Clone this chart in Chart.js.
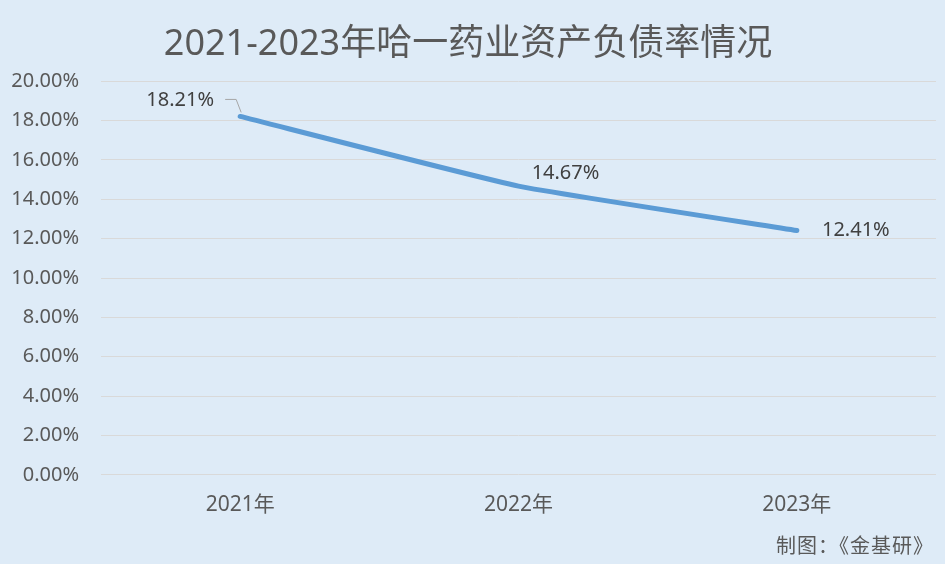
<!DOCTYPE html>
<html><head><meta charset="utf-8">
<script src="https://cdn.jsdelivr.net/npm/chart.js@4"></script>
<style>html,body{margin:0;padding:0;background:#DEEBF7;}#wrap{width:945px;height:564px;position:relative;}</style>
</head><body><div id="wrap"><canvas id="c" width="945" height="564"></canvas></div>
<script>
const categories = ['2021年', '2022年', '2023年'];
const debtRatio = [18.21, 14.67, 12.41];
const yTicks = [0, 2, 4, 6, 8, 10, 12, 14, 16, 18, 20];
const titleText = '2021-2023年哈一药业资产负债率情况';
const sourceText = '制图：《金基研》';

const FONT = "'Noto Sans','Noto Sans CJK SC',sans-serif";
const TXT = '#595959';

const labelPlugin = {
  id: 'labels',
  afterDatasetsDraw(chart) {
    const ctx = chart.ctx;
    const meta = chart.getDatasetMeta(0);
    ctx.save();
    ctx.font = '20px ' + FONT;
    ctx.fillStyle = '#404040';
    ctx.textBaseline = 'middle';
    const offs = [[-60, -16], [47, -13], [59, 0]];
    meta.data.forEach((pt, i) => {
      const o = offs[i];
      ctx.textAlign = 'center';
      ctx.fillText(debtRatio[i].toFixed(2) + '%', pt.x + o[0], pt.y + o[1]);
    });
    const p0 = meta.data[0];
    ctx.strokeStyle = '#A6A6A6';
    ctx.lineWidth = 1;
    ctx.beginPath();
    ctx.moveTo(p0.x - 15, p0.y - 17);
    ctx.lineTo(p0.x - 4, p0.y - 17);
    ctx.lineTo(p0.x + 1, p0.y - 4);
    ctx.stroke();
    ctx.font = '20px ' + FONT;
    ctx.fillStyle = TXT;
    ctx.textAlign = 'right';
    ctx.letterSpacing = '1px';
    ctx.fillText(sourceText, 934, 547);
    ctx.restore();
  }
};

new Chart(document.getElementById('c'), {
  type: 'line',
  data: {
    labels: categories,
    datasets: [{
      data: debtRatio,
      borderColor: '#5B9BD5',
      borderWidth: 5,
      pointRadius: 0,
      tension: 0.12,
      borderCapStyle: 'round',
      fill: false
    }]
  },
  options: {
    responsive: false,
    animation: false,
    devicePixelRatio: 1,
    layout: { padding: { left: 0, right: 9, top: 0, bottom: 36 } },
    plugins: {
      legend: { display: false },
      tooltip: { enabled: false },
      title: {
        display: true,
        text: titleText,
        color: TXT,
        font: { family: FONT, size: 36, weight: 'normal' },
        padding: { top: 23, bottom: 15 }
      }
    },
    scales: {
      x: {
        grid: { display: false },
        border: { display: false },
        ticks: { color: TXT, font: { family: FONT, size: 21 }, padding: 10 },
        offset: true
      },
      y: {
        min: 0, max: 20,
        afterBuildTicks(axis) { axis.ticks = yTicks.map(v => ({ value: v })); },
        afterFit(axis) { axis.width = 101; },
        grid: { color: '#D9D9D9', lineWidth: 1, drawTicks: false },
        border: { display: false },
        ticks: {
          color: TXT, padding: 22,
          font: { family: FONT, size: 20 },
          callback: v => v.toFixed(2) + '%'
        }
      }
    }
  },
  plugins: [labelPlugin]
});
</script></body></html>
